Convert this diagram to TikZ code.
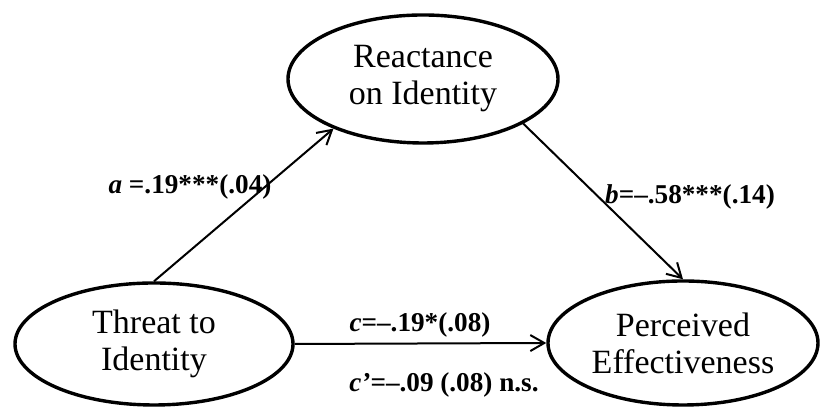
\documentclass[tikz,border=0pt]{standalone}
\usepackage{fontspec}
\setmainfont{Liberation Serif}
\usetikzlibrary{shapes.geometric,arrows.meta,positioning}

\begin{document}
\begin{tikzpicture}
	[x=0.5pt,y=0.5pt,
	 >={Straight Barb[length=7pt,width=8pt]},
	 var/.style={ellipse,draw,line width=1.7pt,inner sep=0pt,align=center,
	             font=\fontsize{17}{18.5}\selectfont},
	 coef/.style={inner sep=0pt,font=\fontsize{13.6}{15}\selectfont\bfseries},
	 link/.style={->,line width=1pt}]
	\useasboundingbox (0,0) rectangle (821,410);
	% the three variables
	\node[var,minimum width=139pt,minimum height=61pt] (threat)    at (154,66)  {Threat to\\Identity};
	\node[var,minimum width=135pt,minimum height=64pt] (reactance) at (423,331) {Reactance\\on Identity};
	\node[var,minimum width=135pt,minimum height=62pt] (perceived) at (683,67)  {Perceived\\Effectiveness};
	% paths
	\draw [link] (threat.north) -- (reactance.209);
	\draw [link] (reactance.-24) -- (perceived.north);
	\draw [link] (threat.east) -- (perceived.west);
	% coefficients
	\node[coef] (apath)  at (190,223) {\textit{a} =.19***(.04)};
	\node[coef] (bpath)  at (690,213) {\textit{b}=–.58***(.14)};
	\node[coef] (cpath)  at (420,85)  {\textit{c}=–.19*(.08)};
	\node[coef] (cppath) at (444,25)  {\textit{c’}=–.09 (.08) n.s.};
\end{tikzpicture}
\end{document}
